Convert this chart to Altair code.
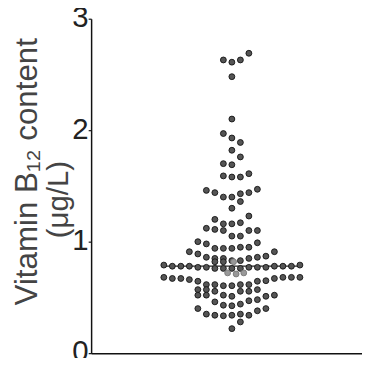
import altair as alt
import pandas as pd

# beeswarm column index (horizontal slot) and vitamin B12 value (µg/L)
cols = [
    -1, 0, 1, 2, 0, 0, -1, 0, 1, 0, 1, -1, 0, -1, 0, 1, 2,
    -3, -2, -1, 0, 1, 2, 3,
    1, 0,
    -2, -1, 0, 1, 2,
    -3, -2, -1, 0, 1, 2, 3,
    -4, -3, -2, -1, 0, 1, 2, 3,
    -5, -4, -3, -2, -2, -1, -1, 0, 1, 2, 3, 4, 5,
    -8, -7, -6, -5, -4, -3, -2, -1, 0, 1, 2, 3, 4, 5, 6, 7, 8,
    -8, -7, -6, -5, 5, 6, 7, 8,
    -4, -4, -3, -3, -2, -2, -1, 0, 1, 1, 2, 2, 3, 3, 4,
    -4, -3, -1, 0, 3, 4, 5,
    -2, -1, 0, 1, 2,
    -4, -3, -2, -1, 0, 1, 1, 2, 3, 4,
    0,
]
values = [
    2.63, 2.61, 2.63, 2.69, 2.48, 2.10, 1.97, 1.93, 1.89, 1.82, 1.76, 1.70, 1.69, 1.59, 1.58, 1.58, 1.61,
    1.46, 1.44, 1.40, 1.40, 1.43, 1.44, 1.47,
    1.36, 1.30,
    1.20, 1.16, 1.16, 1.17, 1.23,
    1.12, 1.11, 1.10, 1.05, 1.05, 1.10, 1.10,
    1.00, 0.98, 0.94, 0.94, 0.94, 0.95, 0.95, 0.99,
    0.91, 0.89, 0.86, 0.85, 0.82, 0.85, 0.82, 0.83, 0.83, 0.85, 0.86, 0.87, 0.91,
    0.79, 0.78, 0.78, 0.78, 0.77, 0.77, 0.76, 0.76, 0.76, 0.76, 0.77, 0.77, 0.77, 0.78, 0.78, 0.78, 0.79,
    0.68, 0.67, 0.67, 0.66, 0.67, 0.68, 0.68, 0.68,
    0.645, 0.57, 0.615, 0.57, 0.615, 0.555, 0.605, 0.605, 0.615, 0.555, 0.615, 0.555, 0.645, 0.57, 0.65,
    0.52, 0.52, 0.52, 0.51, 0.48, 0.51, 0.52,
    0.46, 0.43, 0.425, 0.44, 0.47,
    0.40, 0.35, 0.34, 0.335, 0.34, 0.35, 0.28, 0.34, 0.38, 0.40,
    0.22,
]

# lighter overlapping points around the median
gray_cols = [0.2, -0.5, 0.5, 1.4]
gray_values = [0.82, 0.72, 0.71, 0.72]

median_value = [0.78]
median_start = [-8.3]
median_end = [8.2]

title_line1 = "Vitamin B\u2081\u2082 content"
title_line2 = ["(\u03bcg/L)"]

df = pd.DataFrame({"col": cols, "value": values})
dg = pd.DataFrame({"col": gray_cols, "value": gray_values})
dm = pd.DataFrame({"x": median_start, "x2": median_end, "value": median_value})
dt = pd.DataFrame({"label": title_line2})

xscale = alt.Scale(domain=[-16.55, 15.3], nice=False, zero=False)
yscale = alt.Scale(domain=[0, 3], nice=False)

yaxis = alt.Axis(
    values=[0, 1, 2, 3], grid=False, format="d",
    labelFont="Liberation Sans Narrow, Liberation Sans", labelFontSize=30, labelColor="#222",
    labelPadding=0, labelOffset=-1, tickSize=3, tickColor="#111", tickWidth=1.2,
    domainColor="#111", domainWidth=1.5,
    title=title_line1,
    titleFont="Liberation Sans", titleFontSize=32, titleFontWeight="normal",
    titleColor="#444",
    titleX=-49, titleY=156,
)
xaxis = alt.Axis(labels=False, ticks=False, title=None, grid=False,
                 domainColor="#111", domainWidth=1.5)

points = alt.Chart(df).mark_point(
    filled=True, size=36, fill="#555", stroke="#111", strokeWidth=0.9, opacity=1
).encode(
    x=alt.X("col:Q", scale=xscale, axis=xaxis),
    y=alt.Y("value:Q", scale=yscale, axis=yaxis),
)

median = alt.Chart(dm).mark_rule(color="#222", strokeWidth=1.2).encode(
    x=alt.X("x:Q", scale=xscale),
    x2="x2:Q",
    y=alt.Y("value:Q", scale=yscale),
)

gray = alt.Chart(dg).mark_point(
    filled=True, size=36, fill="#999", stroke="#777", strokeWidth=0.9, opacity=1
).encode(
    x=alt.X("col:Q", scale=xscale),
    y=alt.Y("value:Q", scale=yscale),
)

unit_label = alt.Chart(dt).mark_text(
    angle=270, align="center", baseline="middle",
    font="Liberation Sans", fontSize=30, color="#444",
).encode(
    text="label:N",
    x=alt.value(-33),
    y=alt.value(185),
)

chart = alt.layer(median, points, gray, unit_label).properties(
    width=277, height=342,
    background="white",
    autosize=alt.AutoSizeParams(type="none"),
    padding={"left": 85, "top": 7, "right": 0, "bottom": 1},
).configure_view(stroke=None)

chart.save("out.html", embed_options={"renderer": "svg", "actions": False})
